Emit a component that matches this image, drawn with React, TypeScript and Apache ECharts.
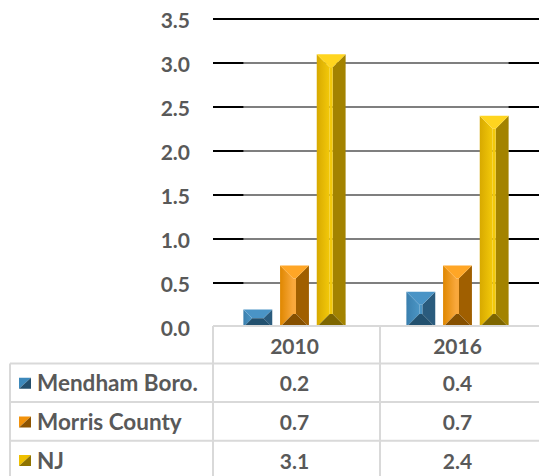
import React, { useEffect, useRef } from "react";
import * as echarts from "echarts";

const categories = ["2010", "2016"];
const seriesNames = ["Mendham Boro.", "Morris County", "NJ"];
const mendhamValues = [0.2, 0.4];
const morrisValues = [0.7, 0.7];
const njValues = [3.1, 2.4];
const yTicks = [0, 0.5, 1.0, 1.5, 2.0, 2.5, 3.0, 3.5];

const seriesValues = [mendhamValues, morrisValues, njValues];

const palettes = [
  { top: "#4a94c6", left: "#3a7fae", center: "#4b95c4", right: "#2a5b7d", bottom: "#22506e", swLight: "#3d89bb", swDark: "#234f6d" },
  { top: "#ffa626", left: "#df8700", center: "#f9a83c", right: "#a05f00", bottom: "#865000", swLight: "#f2920b", swDark: "#8e5400" },
  { top: "#ffd51f", left: "#d7a900", center: "#f3c90a", right: "#a38300", bottom: "#7e6600", swLight: "#efc000", swDark: "#8f7300" },
];

const FONT = 'Lato, "Noto Sans", sans-serif';
const TEXT_COLOR = "#595959";
const BORDER = "#d9d9d9";
const GRID_LEFT = 213;
const GRID_TOP = 19;
const GRID_W = 334;
const GRID_H = 308;
const BAR_RATIO = 0.177;
const STEP_RATIO = 0.225;

function barRenderer(si: number) {
  const pal = palettes[si];
  return (params: any, api: any) => {
    const cat = api.value(0);
    const v = api.value(1);
    const base = api.coord([cat, 0]);
    const top = api.coord([cat, v]);
    const catW = api.size([1, 0])[0];
    const bw = catW * BAR_RATIO;
    const step = catW * STEP_RATIO;
    const cx = base[0] + (si - 1) * step;
    const x0 = cx - bw / 2;
    const x1 = cx + bw / 2;
    const y0 = top[1];
    const yb = base[1];
    const H = yb - y0;
    const d = Math.max(0, Math.min(bw / 2 - 1.5, H / 2));
    const children: any[] = [
      {
        type: "polygon",
        shape: { points: [[x0, y0], [x0 + d, y0 + d], [x0 + d, yb - d], [x0, yb]] },
        style: {
          fill: new echarts.graphic.LinearGradient(0, 0, 1, 0, [
            { offset: 0, color: pal.left },
            { offset: 1, color: pal.center },
          ]),
        },
      },
      {
        type: "polygon",
        shape: { points: [[x1, y0], [x1 - d, y0 + d], [x1 - d, yb - d], [x1, yb]] },
        style: { fill: pal.right },
      },
      {
        type: "rect",
        shape: { x: x0 + d, y: y0 + d, width: Math.max(0, bw - 2 * d), height: Math.max(0, H - 2 * d) },
        style: { fill: pal.center },
      },
      {
        type: "polygon",
        shape: { points: [[x0, y0], [x1, y0], [x1 - d, y0 + d], [x0 + d, y0 + d]] },
        style: { fill: pal.top },
      },
      {
        type: "polygon",
        shape: { points: [[x0, yb], [x1, yb], [x1 - d, yb - d], [x0 + d, yb - d]] },
        style: { fill: pal.bottom },
      },
    ];
    return { type: "group", children };
  };
}

function grayGridRenderer(params: any, api: any) {
  const v = api.value(1);
  const p0 = api.coord([0, v]);
  const p1 = api.coord([categories.length - 1, v]);
  const catW = api.size([1, 0])[0];
  const bw = catW * BAR_RATIO;
  const step = catW * STEP_RATIO;
  return {
    type: "line",
    shape: { x1: p0[0] - step - bw / 2, y1: p0[1], x2: p1[0] + step + bw / 2, y2: p1[1] },
    style: { stroke: "#7f7f7f", lineWidth: 2 },
  };
}

export default function App() {
  const ref = useRef<HTMLDivElement>(null);
  useEffect(() => {
    if (!ref.current) return;
    const chart = echarts.init(ref.current, null, { renderer: "svg" });
    const maxTick = yTicks[yTicks.length - 1];
    const option: any = {
      animation: false,
      grid: { left: GRID_LEFT, top: GRID_TOP, width: GRID_W, height: GRID_H, containLabel: false },
      xAxis: {
        type: "category",
        data: categories,
        axisLine: { show: false },
        axisTick: { show: false },
        axisLabel: {
          margin: 18,
          verticalAlign: "middle",
          fontFamily: FONT,
          fontWeight: "bold",
          fontSize: 21,
          color: TEXT_COLOR,
        },
        splitLine: { show: false },
      },
      yAxis: {
        type: "value",
        min: yTicks[0],
        max: maxTick,
        interval: yTicks[1] - yTicks[0],
        axisLine: { show: false },
        axisTick: { show: false },
        axisLabel: {
          margin: 23,
          fontFamily: FONT,
          fontWeight: "bold",
          fontSize: 21,
          color: TEXT_COLOR,
          formatter: (val: number) => val.toFixed(1),
        },
        splitLine: { show: true, showMinLine: false, lineStyle: { color: "#000000", width: 2 } },
      },
      series: [
        {
          type: "custom",
          name: "grid-back",
          z: 2,
          silent: true,
          encode: { x: 0, y: 1 },
          data: yTicks.filter((t) => t > yTicks[0] && t < maxTick).map((t) => [0, t]),
          renderItem: grayGridRenderer,
        },
        ...seriesNames.map((name, si) => ({
          type: "custom",
          name,
          z: 3,
          encode: { x: 0, y: 1 },
          data: seriesValues[si].map((v, i) => [i, v]),
          renderItem: barRenderer(si),
        })),
      ],
    };
    chart.setOption(option);

    const colX = categories.map((_, i) => chart.convertToPixel({ xAxisIndex: 0 }, i) as number);
    const catW = GRID_W / categories.length;
    const tableTop = GRID_TOP + GRID_H - 1;
    const rowH = 38.6;
    const headerBottom = tableTop + 37.5;
    const rightEdge = GRID_LEFT + GRID_W;
    const tableBottom = headerBottom + rowH * seriesNames.length;
    const leftEdge = 10;
    const lineStyle = { stroke: BORDER, lineWidth: 2 };
    const graphic: any[] = [];
    graphic.push({ type: "line", z: 10, shape: { x1: GRID_LEFT, y1: tableTop, x2: rightEdge, y2: tableTop }, style: lineStyle });
    for (let i = 0; i <= categories.length; i++) {
      const x = GRID_LEFT + i * catW;
      graphic.push({ type: "line", z: 10, shape: { x1: x, y1: tableTop, x2: x, y2: tableBottom }, style: lineStyle });
    }
    graphic.push({ type: "line", z: 10, shape: { x1: leftEdge, y1: headerBottom, x2: leftEdge, y2: tableBottom }, style: lineStyle });
    for (let r = 0; r <= seriesNames.length; r++) {
      const y = headerBottom + r * rowH;
      graphic.push({ type: "line", z: 10, shape: { x1: leftEdge, y1: y, x2: rightEdge, y2: y }, style: lineStyle });
    }
    seriesNames.forEach((name, si) => {
      const cy = headerBottom + (si + 0.5) * rowH;
      const pal = palettes[si];
      const sx = 19, sw = 12, sh = 11, sy = cy - 5;
      graphic.push({ type: "polygon", z: 10, shape: { points: [[sx, sy], [sx + sw, sy], [sx, sy + sh]] }, style: { fill: pal.swLight } });
      graphic.push({ type: "polygon", z: 10, shape: { points: [[sx + sw, sy], [sx + sw, sy + sh], [sx, sy + sh]] }, style: { fill: pal.swDark } });
      graphic.push({
        type: "text",
        z: 10,
        x: 37,
        y: cy,
        style: { text: name, fontFamily: FONT, fontWeight: "bold", fontSize: 22.5, fill: TEXT_COLOR, verticalAlign: "middle", align: "left" },
      });
      seriesValues[si].forEach((v, ci) => {
        graphic.push({
          type: "text",
          z: 10,
          x: colX[ci],
          y: cy,
          style: { text: v.toFixed(1), fontFamily: FONT, fontWeight: "bold", fontSize: 21, fill: TEXT_COLOR, verticalAlign: "middle", align: "center" },
        });
      });
    });
    chart.setOption({ graphic });

    return () => chart.dispose();
  }, []);
  return <div ref={ref} style={{ position: "absolute", left: 0, top: 0, width: 539, height: 476 }} />;
}
